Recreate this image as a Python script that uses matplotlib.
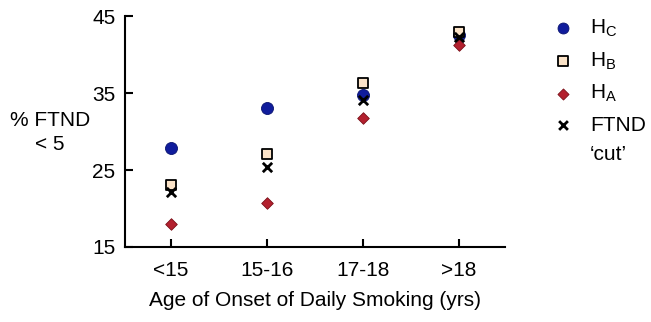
import matplotlib
matplotlib.use("Agg")
import matplotlib.pyplot as plt

plt.rcParams['font.family'] = ['Liberation Sans', 'DejaVu Sans']
plt.rcParams['mathtext.default'] = 'regular'

# data
groups = ['<15', '15-16', '17-18', '>18']
h_c = [27.9, 33.0, 34.7, 42.5]
h_b = [23.0, 27.1, 36.3, 42.9]
h_a = [18.0, 20.7, 31.7, 41.2]
ftnd_cut = [22.1, 25.4, 34.1, 42.3]

x = list(range(1, len(groups) + 1))
FS = 15

fig = plt.figure(figsize=(6.51, 3.22), dpi=100)
ax = fig.add_axes([0.192, 0.233, 0.584, 0.717])

ax.scatter(x, h_c, s=75, marker='o', color='#101c9c', edgecolors='#0a1470',
           linewidths=0.6, label='H$_C$', zorder=3)
ax.scatter(x, h_b, s=60, marker='s', color='#fbe3c8', edgecolors='black',
           linewidths=1.3, label='H$_B$', zorder=3)
ax.scatter(x, h_a, s=35, marker='D', color='#b3202e', edgecolors='#7a1018',
           linewidths=0.6, label='H$_A$', zorder=4)
ax.scatter(x, ftnd_cut, s=45, marker='x', color='black', linewidths=2.0,
           label='FTND', zorder=5)

ax.set_xlim(0.52, 4.48)
ax.set_ylim(15, 45)
ax.set_yticks([15, 25, 35, 45])
ax.set_xticks(x)
ax.set_xticklabels(groups)

for s in ['top', 'right']:
    ax.spines[s].set_visible(False)
for s in ['left', 'bottom']:
    ax.spines[s].set_linewidth(1.5)
ax.tick_params(direction='in', length=6, width=1.5, labelsize=FS)
ax.tick_params(axis='x', pad=10)
ax.tick_params(axis='y', pad=7)

ax.set_xlabel('Age of Onset of Daily Smoking (yrs)', fontsize=FS, labelpad=8)
fig.text(0.077, 0.589, '% FTND\n< 5', fontsize=FS, ha='center', va='center',
         linespacing=1.35)

leg = ax.legend(loc='upper left', bbox_to_anchor=(1.103, 1.03), frameon=False,
                fontsize=FS, handletextpad=0.8, labelspacing=0.55,
                handlelength=1.0, borderaxespad=0, scatterpoints=1)
for h, size in zip(leg.legend_handles, [62, 55, 32, 40]):
    h.set_sizes([size])
fig.text(0.906, 0.52, '\u2018cut\u2019', fontsize=FS, ha='left', va='center')

fig.savefig('out.png', dpi=100)
